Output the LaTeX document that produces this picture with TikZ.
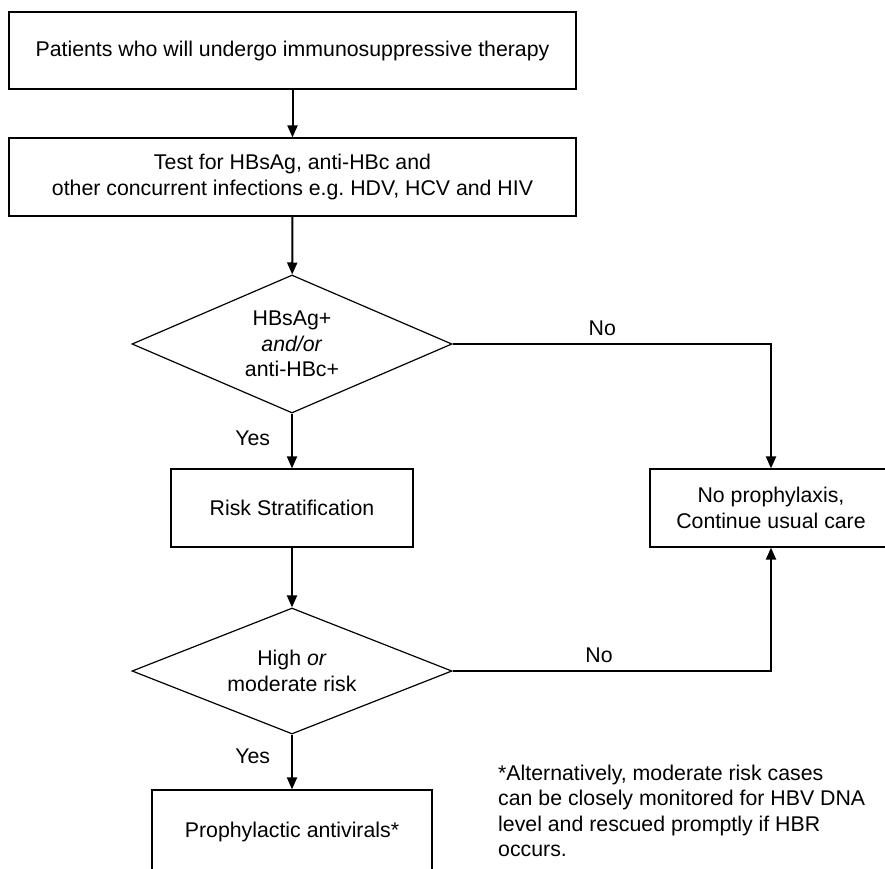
\documentclass[tikz,border=0pt]{standalone}
\usepackage{fontspec}
\setmainfont{Liberation Sans}
\usetikzlibrary{shapes.geometric,arrows.meta,positioning}
\frenchspacing
\begin{document}
\begin{tikzpicture}[x=1pt,y=-1pt,
  font=\fontsize{21.3}{25.5}\selectfont,
  box/.style={draw, rectangle, line width=1.2pt, minimum height=78pt, align=center},
  choice/.style={draw, diamond, line width=1.2pt, minimum width=320pt, align=center, inner sep=0pt},
  link/.style={-{Triangle[length=12pt,width=10pt]}, line width=2pt},
  lbl/.style={inner sep=0pt}]
\useasboundingbox (0,0) rectangle (885,868);
\node[box, minimum width=567pt, minimum height=77pt] (p) at (292.5,50.5) {Patients who will undergo immunosuppressive therapy};
\node[box, minimum width=567pt] (t) at (292.5,177) {Test for HBsAg, anti-HBc and\\other concurrent infections e.g.\ HDV, HCV and HIV};
\node[choice, aspect=2.32, minimum height=138pt] (h) at (292,344) {HBsAg+\\\textit{and/or}\\anti-HBc+};
\node[box, minimum width=242pt] (r) at (292,508) {Risk Stratification};
\node[box, minimum width=242pt] (np) at (771,508) {No prophylaxis,\\Continue usual care};
\node[choice, aspect=2.54, minimum height=126pt] (m) at (292,671) {High \textit{or}\\moderate risk};
\node[box, minimum width=280pt, minimum height=84pt] (pa) at (292,832) {Prophylactic antivirals*};
\node[lbl, anchor=west, align=left] (fn) at (498,811) {*Alternatively, moderate risk cases\\can be closely monitored for HBV DNA\\level and rescued promptly if HBR\\occurs.};
\draw[link] (p) -- (t);
\draw[link] (t) -- (h);
\draw[link] (h) -- node[lbl, left=21pt, pos=0.45] {Yes} (r);
\draw[link] (r) -- (m);
\draw[link] (m) -- node[lbl, left=21pt, pos=0.4] {Yes} (pa);
\draw[link] (h.east) -| node[lbl, above=7pt, pos=0.235] {No} (np.north);
\draw[link] (m.east) -| node[lbl, above=7pt, pos=0.23] {No} (np.south);
\end{tikzpicture}
\end{document}
